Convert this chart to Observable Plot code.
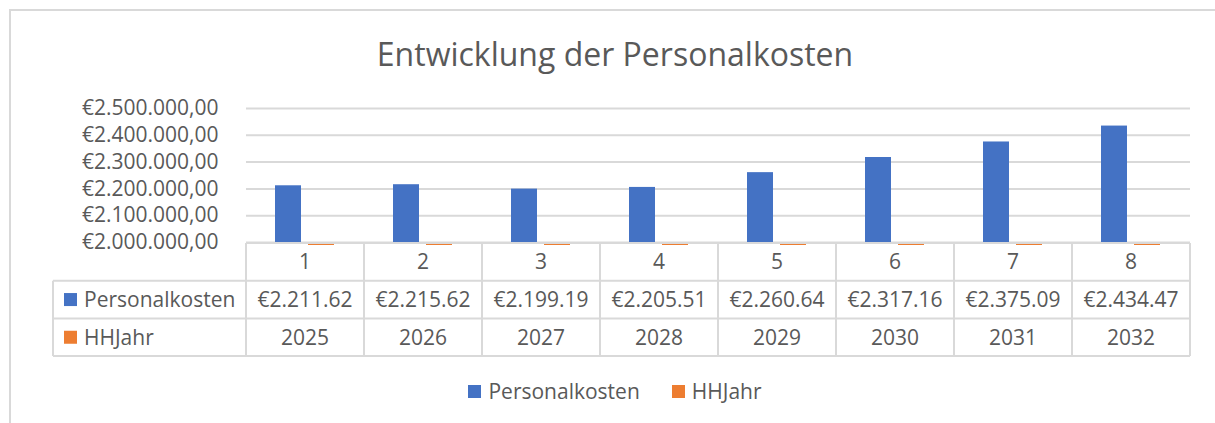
<!DOCTYPE html>
<html><head><meta charset="utf-8">
<script src="https://cdn.jsdelivr.net/npm/d3@7"></script>
<script src="https://cdn.jsdelivr.net/npm/@observablehq/plot@0.6"></script>
<style>
body{margin:0;background:#fff;font-family:"Open Sans",sans-serif;}
#wrap{position:relative;width:1215px;height:423px;overflow:hidden;background:#fff;}
#frame{position:absolute;left:9px;top:9px;width:1210px;height:420px;border-top:2px solid #d9d9d9;border-left:2px solid #d9d9d9;box-sizing:border-box;}
#title{position:absolute;left:10px;width:1210px;top:34px;text-align:center;font-size:32px;color:#595959;line-height:40px;}
#chart{position:absolute;left:0;top:0;}
#legend{position:absolute;left:10px;width:1210px;top:377px;display:flex;justify-content:center;align-items:center;font-size:21px;color:#595959;}
#legend .item{display:flex;align-items:center;}
#legend .sw{width:13px;height:13px;margin-right:7px;}
</style>
</head><body>
<div id="wrap">
  <div id="frame"></div>
  <div id="chart"></div>
  <div id="title">Entwicklung der Personalkosten</div>
  <div id="legend"></div>
</div>
<script>
// ---- data ----
const categories = ["1","2","3","4","5","6","7","8"];
const personalkosten = [2211620, 2215620, 2199190, 2205510, 2260640, 2317160, 2375090, 2434470];
const hhJahr = [2025, 2026, 2027, 2028, 2029, 2030, 2031, 2032];
const seriesNames = ["Personalkosten", "HHJahr"];
const seriesColors = ["#4472C4", "#ED7D31"];
const yTicks = [2000000, 2100000, 2200000, 2300000, 2400000, 2500000];

// ---- derived table ----
const rows = categories.flatMap((c, i) => [
  {cat: c, series: "Personalkosten", value: personalkosten[i]},
  {cat: c, series: "HHJahr", value: hhJahr[i]}
]);
const de = d3.formatLocale({decimal: ",", thousands: ".", grouping: [3], currency: ["€", ""]});
const money = de.format("$,.2f");
const cellMoney = v => money(v).slice(0, 9);

const W = 1215, H = 423;
const mTop = 108, mBottom = 181, mLeft = 245, mRight = 25;

const chart = Plot.plot({
  width: W, height: H,
  marginTop: mTop, marginBottom: mBottom, marginLeft: mLeft, marginRight: mRight,
  style: {fontFamily: "Open Sans", fontSize: "21px", color: "#595959", background: "transparent", overflow: "visible"},
  fx: {domain: categories, padding: 0, axis: null, label: null},
  x: {domain: seriesNames, paddingInner: 0.2, paddingOuter: 0.85, axis: null},
  y: {domain: [2000000, 2500000], clamp: true, ticks: yTicks, tickFormat: money, tickSize: 0, tickPadding: 28, label: null},
  color: {domain: seriesNames, range: seriesColors},
  marks: [
    Plot.gridY(yTicks, {stroke: "#d9d9d9", strokeOpacity: 1, strokeWidth: 2}),
    Plot.barY(rows.filter(d => d.series === "Personalkosten"), {fx: "cat", x: "series", y: "value", fill: "series"}),
    Plot.barY(rows.filter(d => d.series === "HHJahr"), {fx: "cat", x: "series", y: "value", fill: "series", insetTop: 1, insetBottom: -3})
  ]
});
document.getElementById("chart").appendChild(chart);

// ---- data table below the plot, aligned with the fx scale ----
const fx = chart.scale("fx");
const bw = fx.bandwidth;
const left = fx.apply(categories[0]);
const right = fx.apply(categories[categories.length - 1]) + bw;
const base = H - mBottom;       // plot bottom (y of 2.000.000)
const rowH = 37.7;
const tableLeft = 53;
const svg = d3.select(chart);
const g = svg.append("g").attr("fill", "#595959").attr("font-size", 21);
const lineStyle = sel => sel.attr("stroke", "#d9d9d9").attr("stroke-width", 2);

// horizontal lines
g.append("line").attr("x1", left).attr("x2", right).attr("y1", base + 1).attr("y2", base + 1).call(lineStyle);
for (let r = 1; r <= 3; r++) {
  g.append("line").attr("x1", tableLeft).attr("x2", right)
    .attr("y1", base + 1 + r * rowH).attr("y2", base + 1 + r * rowH).call(lineStyle);
}
// vertical lines
g.append("line").attr("x1", tableLeft).attr("x2", tableLeft).attr("y1", base + 1 + rowH).attr("y2", base + 1 + 3 * rowH).call(lineStyle);
g.append("line").attr("x1", left).attr("x2", left).attr("y1", base + 1).attr("y2", base + 1 + 3 * rowH).call(lineStyle);
categories.forEach(c => {
  const xr = fx.apply(c) + bw;
  g.append("line").attr("x1", xr).attr("x2", xr).attr("y1", base + 1).attr("y2", base + 1 + 3 * rowH).call(lineStyle);
});
// cell text
const rowTexts = [categories, personalkosten.map(cellMoney), hhJahr.map(String)];
rowTexts.forEach((vals, r) => {
  vals.forEach((t, i) => {
    g.append("text").attr("x", fx.apply(categories[i]) + bw / 2)
      .attr("y", base + 1 + r * rowH + rowH / 2).attr("dy", "0.36em")
      .attr("text-anchor", "middle").text(t);
  });
});
// row headers
seriesNames.forEach((s, k) => {
  const cy = base + 1 + (k + 1) * rowH + rowH / 2;
  g.append("rect").attr("x", tableLeft + 11).attr("y", cy - 6.5).attr("width", 13).attr("height", 13).attr("fill", seriesColors[k]);
  g.append("text").attr("x", tableLeft + 31).attr("y", cy).attr("dy", "0.36em")
    .attr("text-anchor", "start").text(s);
});

// ---- legend ----
const legend = d3.select("#legend");
seriesNames.forEach((s, k) => {
  const it = legend.append("div").attr("class", "item").style("margin-right", k === 0 ? "32px" : "0");
  it.append("div").attr("class", "sw").style("background", seriesColors[k]);
  it.append("span").text(s);
});
</script>
</body></html>
